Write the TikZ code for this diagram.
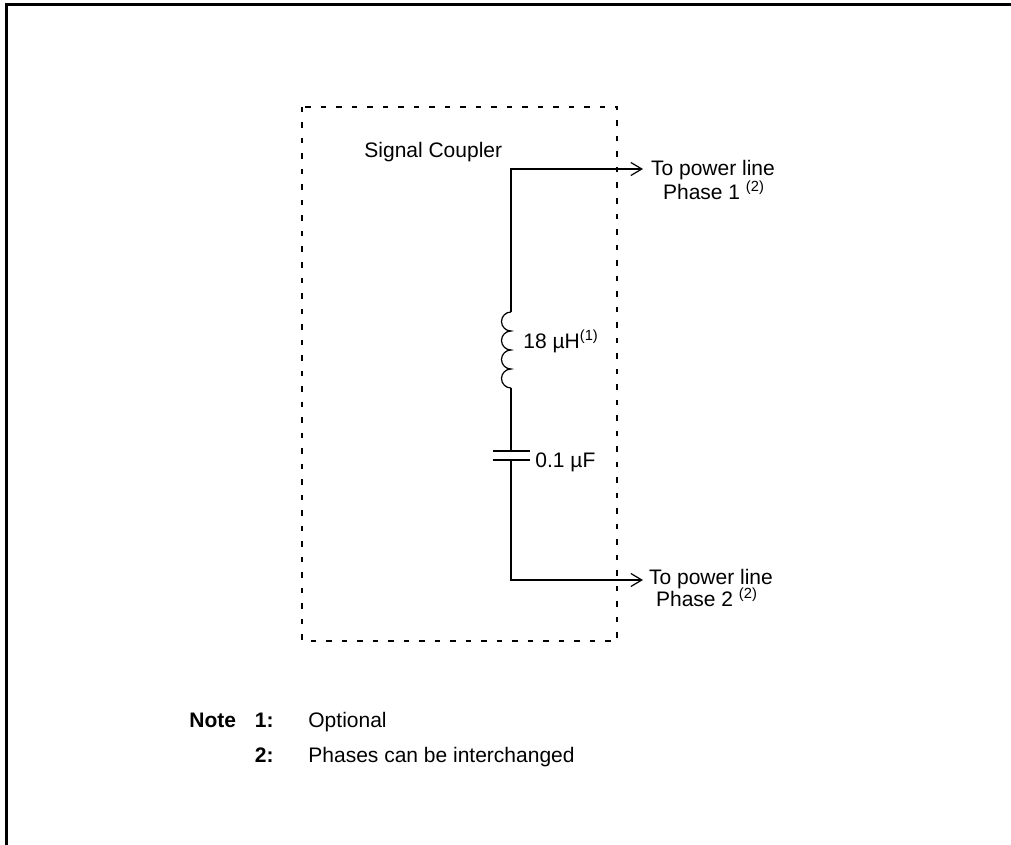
\documentclass[tikz,border=0pt]{standalone}
\usepackage{fontspec}
\setmainfont{Liberation Sans}
\usetikzlibrary{positioning,arrows.meta}

\begin{document}
\begin{tikzpicture}[x=0.5pt,y=-0.5pt,
		wire/.style={line width=1pt},
		txt/.style={inner sep=0, font=\fontsize{10.5}{12}\selectfont},
		bold/.style={inner sep=0, font=\fontsize{10.5}{12}\selectfont\bfseries},
		tip/.style={-{Straight Barb[length=5.5pt,width=6.5pt,line width=0.6pt]}},
	]
	\useasboundingbox (0,0) rectangle (1011,845);
	% frame: top and left edge only
	\draw[line width=1.5pt] (6,845) -- (6,5) -- (1011,5);
	% dotted box of the coupler
	\draw[line width=0.9pt, dash pattern=on 2.75pt off 5pt] (302,107) rectangle (617,641);
	\node[txt, anchor=base west] (cpl) at (364,158) {Signal Coupler};

	% points of the circuit
	\coordinate (top) at (511,169);
	\coordinate (ph1) at (643,169);
	\coordinate (lt) at (511,312);
	\coordinate (lb) at (511,388);
	\coordinate (ca) at (511,451);
	\coordinate (cb) at (511,460);
	\coordinate (bot) at (511,580);
	\coordinate (ph2) at (643,580);

	% wires
	\draw[wire, tip] (lt) -- (top) -- (ph1);
	\draw[line width=0.6pt] (lt) \foreach \i in {1,...,4} {arc[start angle=90, end angle=270, radius=4.75pt]};
	\draw[wire] (lb) -- (ca);
	\draw[wire] ([xshift=-9.25pt]ca) -- ([xshift=9.25pt]ca);
	\draw[wire] ([xshift=-9.25pt]cb) -- ([xshift=9.25pt]cb);
	\draw[wire, tip] (cb) -- (bot) -- (ph2);

	% part values
	\node[txt, anchor=base west] (lval) at (523,348) {18 µH\textsuperscript{(1)}};
	\node[txt, anchor=base west] (cval) at (535,467) {0.1 µF};

	% outputs
	\node[txt, anchor=base] (out1a) at (713,176) {To power line};
	\node[txt, anchor=base] (out1b) at (714,199) {Phase 1 \textsuperscript{(2)}};
	\node[txt, anchor=base] (out2a) at (711,584) {To power line};
	\node[txt, anchor=base] (out2b) at (707,606) {Phase 2 \textsuperscript{(2)}};

	% notes
	\node[bold, anchor=base west] (note) at (189,727) {Note};
	\node[bold, anchor=base east] (n1) at (274,727) {1:};
	\node[bold, anchor=base east] (n2) at (274,762) {2:};
	\node[txt, anchor=base west] (t1) at (308,727) {Optional};
	\node[txt, anchor=base west] (t2) at (308,762) {Phases can be interchanged};
\end{tikzpicture}
\end{document}
